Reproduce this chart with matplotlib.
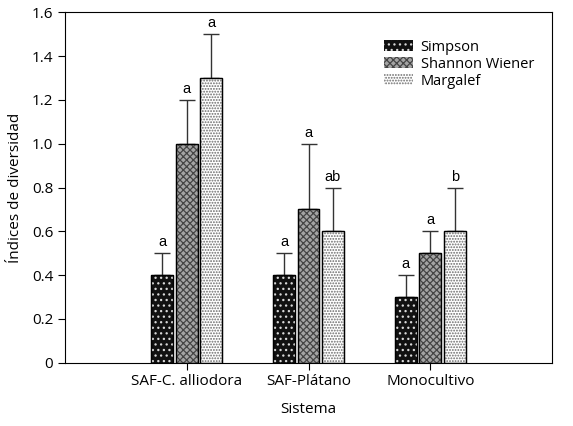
import matplotlib
matplotlib.use("Agg")
import matplotlib.pyplot as plt
from matplotlib.patches import Patch
import numpy as np

categories = ["SAF-C. alliodora", "SAF-Plátano", "Monocultivo"]
series_names = ["Simpson", "Shannon Wiener", "Margalef"]
simpson = [0.4, 0.4, 0.3]
shannon = [1.0, 0.7, 0.5]
margalef = [1.3, 0.6, 0.6]
simpson_err = [0.1, 0.1, 0.1]
shannon_err = [0.2, 0.3, 0.1]
margalef_err = [0.2, 0.2, 0.2]
simpson_lbl = ["a", "a", "a"]
shannon_lbl = ["a", "a", "a"]
margalef_lbl = ["a", "ab", "b"]
yticks = [0, 0.2, 0.4, 0.6, 0.8, 1.0, 1.2, 1.4, 1.6]
ytick_labels = ["0", "0.2", "0.4", "0.6", "0.8", "1.0", "1.2", "1.4", "1.6"]

plt.rcParams['font.family'] = ['Open Sans', 'DejaVu Sans']
plt.rcParams['hatch.linewidth'] = 0.9

fig = plt.figure(figsize=(5.73, 4.26), dpi=100)
ax = fig.add_axes([0.1134, 0.149, 0.85, 0.8217])

x = np.arange(len(categories))
width = 0.18
offsets = [-0.2, 0.0, 0.2]
vals = [simpson, shannon, margalef]
errs = [simpson_err, shannon_err, margalef_err]
lbls = [simpson_lbl, shannon_lbl, margalef_lbl]
faces = ["#111111", "#a4a4a4", "#ffffff"]
hatch_cols = ["#d8d8d8", "#454545", "#6a6a6a"]
hatches = ["...", "xxxxx", "......"]

handles = []
for i in range(3):
    xp = x + offsets[i]
    ax.bar(xp, vals[i], width, color=faces[i], edgecolor="black", linewidth=0.9, zorder=2)
    ax.bar(xp, vals[i], width, color="none", edgecolor=hatch_cols[i], hatch=hatches[i],
           linewidth=0, zorder=3)
    ax.bar(xp, vals[i], width, color="none", edgecolor="black", linewidth=0.9, zorder=4)
    ax.errorbar(xp, vals[i], yerr=[np.zeros(3), errs[i]], fmt="none", ecolor="#333333",
                elinewidth=1.0, capsize=6, capthick=1.0, zorder=1)
    for j in range(3):
        ax.text(xp[j], vals[i][j] + errs[i][j] + 0.018, lbls[i][j], ha="center", va="bottom",
                fontsize=10.5, family=["Liberation Sans", "DejaVu Sans"])
    handles.append(Patch(facecolor=faces[i], edgecolor=hatch_cols[i], hatch=hatches[i],
                         linewidth=0))

ax.set_xlim(-1, 3)
ax.set_ylim(0, 1.6)
ax.set_xticks(x)
ax.set_xticklabels(categories, fontsize=11)
ax.set_yticks(yticks)
ax.set_yticklabels(ytick_labels, fontsize=11)
ax.tick_params(axis="both", direction="out", length=5, width=0.8)
for s in ax.spines.values():
    s.set_linewidth(0.8)
ax.set_xlabel("Sistema", fontsize=11, labelpad=9)
ax.set_ylabel("Índices de diversidad", fontsize=11, labelpad=6)

leg = ax.legend(handles, series_names, loc="upper right", bbox_to_anchor=(0.99, 0.96),
                frameon=False, fontsize=10.5, handlelength=2.0, handleheight=0.8,
                handletextpad=0.5, labelspacing=0.15)

fig.savefig("out.png", dpi=100)
